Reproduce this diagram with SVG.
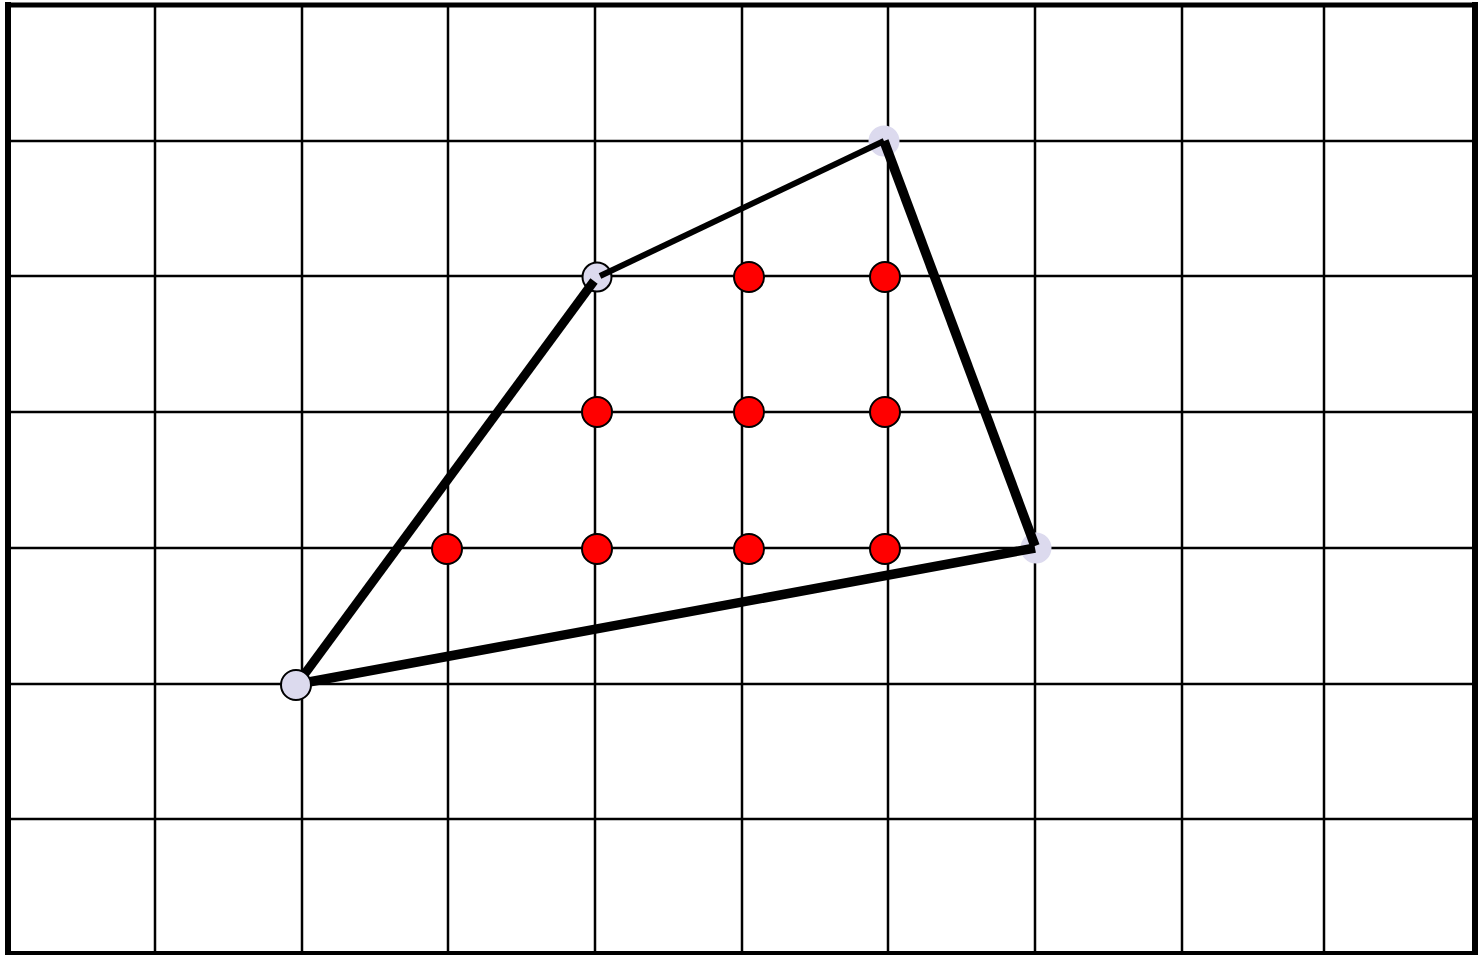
<svg xmlns="http://www.w3.org/2000/svg" width="1478" height="955" viewBox="0 0 1478 955">
<style>
.g{stroke:#000;stroke-width:2.5;fill:none}
.e{stroke:#000;fill:none;stroke-linecap:butt}
.v{fill:#dcdaee}
.vs{fill:#dcdaee;stroke:#000;stroke-width:2}
.r{fill:#ff0000;stroke:#000;stroke-width:2}
</style>
<rect width="1478" height="955" fill="#fff"/>
<g id="grid">
<line class="g" x1="155" y1="5" x2="155" y2="953"/>
<line class="g" x1="302" y1="5" x2="302" y2="953"/>
<line class="g" x1="448" y1="5" x2="448" y2="953"/>
<line class="g" x1="595" y1="5" x2="595" y2="953"/>
<line class="g" x1="742" y1="5" x2="742" y2="953"/>
<line class="g" x1="888" y1="5" x2="888" y2="953"/>
<line class="g" x1="1035" y1="5" x2="1035" y2="953"/>
<line class="g" x1="1182" y1="5" x2="1182" y2="953"/>
<line class="g" x1="1324" y1="5" x2="1324" y2="953"/>
<line class="g" x1="8" y1="141" x2="1475" y2="141"/>
<line class="g" x1="8" y1="276" x2="1475" y2="276"/>
<line class="g" x1="8" y1="412" x2="1475" y2="412"/>
<line class="g" x1="8" y1="548" x2="1475" y2="548"/>
<line class="g" x1="8" y1="684" x2="1475" y2="684"/>
<line class="g" x1="8" y1="819" x2="1475" y2="819"/>
<line x1="8" y1="2" x2="8" y2="955" stroke="#000" stroke-width="6"/>
<line x1="1475" y1="2" x2="1475" y2="955" stroke="#000" stroke-width="6"/>
<line x1="5" y1="5" x2="1478" y2="5" stroke="#000" stroke-width="5"/>
<line x1="5" y1="953" x2="1478" y2="953" stroke="#000" stroke-width="4"/>
</g>
<g id="v2"><circle class="vs" cx="597" cy="277" r="14.5"/></g>
<g id="v3"><circle class="v" cx="884" cy="141" r="15.5"/></g>
<g id="v4"><circle class="v" cx="1036" cy="548" r="15.5"/></g>
<g id="edges">
<line class="e" x1="298" y1="683" x2="594" y2="281" stroke-width="9"/>
<line class="e" x1="600" y1="276" x2="884" y2="141" stroke-width="6"/>
<line class="e" x1="884" y1="141" x2="1035" y2="546" stroke-width="9.5"/>
<line class="e" x1="1035" y1="548" x2="298" y2="684" stroke-width="9.5"/>
</g>
<g id="v1"><circle class="vs" cx="296" cy="685" r="15"/></g>
<g id="points">
<circle class="r" cx="447" cy="549" r="15"/>
<circle class="r" cx="597" cy="412" r="15"/>
<circle class="r" cx="597" cy="549" r="15"/>
<circle class="r" cx="749" cy="277" r="15"/>
<circle class="r" cx="749" cy="412" r="15"/>
<circle class="r" cx="749" cy="549" r="15"/>
<circle class="r" cx="885" cy="277" r="15"/>
<circle class="r" cx="885" cy="412" r="15"/>
<circle class="r" cx="885" cy="549" r="15"/>
</g>
</svg>
